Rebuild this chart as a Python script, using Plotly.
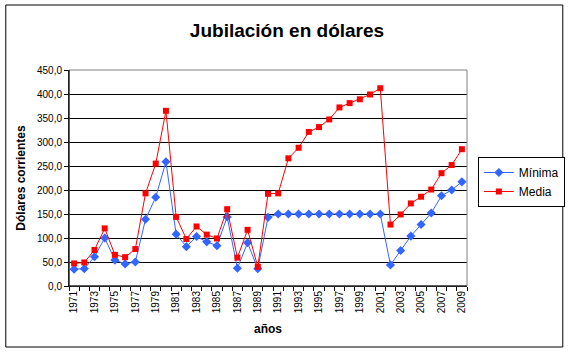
import plotly.graph_objects as go

years = list(range(1971, 2010))
minima = [35, 36, 61, 100, 54, 46, 50, 139, 185, 259, 108, 82, 103, 92, 84, 144, 37, 90, 36, 143,
          150, 150, 150, 150, 150, 150, 150, 150, 150, 150, 150,
          44, 74, 104, 128, 152, 188, 200, 217]
media = [47, 49, 75, 120, 65, 60, 77, 193, 255, 365, 144, 98, 124, 107, 99, 160, 59, 117, 40, 192,
         193, 266, 288, 321, 331, 347, 372, 381, 389, 399, 412,
         128, 149, 172, 186, 201, 235, 252, 285]
tick_years = list(range(1971, 2010, 2))
y_ticks = list(range(0, 451, 50))

FONT = "Liberation Sans, Arial, sans-serif"

fig = go.Figure()
fig.add_trace(go.Scatter(x=years, y=minima, name="Mínima", mode="lines+markers",
                         line=dict(color="#3366FF", width=1),
                         marker=dict(symbol="diamond", size=7, color="#3366FF")))
fig.add_trace(go.Scatter(x=years, y=media, name="Media", mode="lines+markers",
                         line=dict(color="#FF0000", width=1),
                         marker=dict(symbol="square", size=6, color="#FF0000")))

W, H = 577, 354
L, R, T, B = 69, 472, 70, 286
pw, ph = R - L, B - T

def px(x):
    return (x - L) / pw

def py(y):
    return (B - y) / ph

fig.update_layout(
    width=W, height=H,
    margin=dict(l=L, r=W - R, t=T, b=H - B),
    paper_bgcolor="white", plot_bgcolor="white",
    font=dict(family=FONT, color="black", size=10),
    separators=",.",
    title=dict(text="<b>Jubilación en dólares</b>", x=287 / W, xref="container", xanchor="center",
               y=1 - 30 / H, yanchor="middle", font=dict(size=19, family=FONT)),
    legend=dict(x=px(483), y=py(157), xanchor="left", yanchor="top",
                bordercolor="black", borderwidth=1, bgcolor="white",
                font=dict(size=12, family=FONT), tracegroupgap=2),
    xaxis=dict(range=[1970.5, 2009.5], tickmode="array", tickvals=tick_years,
               ticktext=[str(y) for y in tick_years], tickangle=-90, ticks="",
               showgrid=False, zeroline=False, showline=True, linecolor="black", linewidth=1,
               tickfont=dict(size=10),
               minor=dict(tickmode="array", tickvals=[y - 0.5 for y in years] + [2009.5],
                          ticks="outside", ticklen=4, tickcolor="black", showgrid=False),
               title=dict(text="<b>años</b>", font=dict(size=12), standoff=12)),
    yaxis=dict(range=[0, 450], tickmode="array", tickvals=y_ticks, tickformat=".1f",
               ticks="outside", ticklen=4, tickcolor="black",
               showgrid=True, gridcolor="black", gridwidth=1, zeroline=False,
               showline=True, linecolor="black", linewidth=1, tickfont=dict(size=10),
               title=dict(text="<b>Dólares corrientes</b>", font=dict(size=12), standoff=8)),
    shapes=[
        dict(type="rect", xref="paper", yref="paper", x0=0, x1=1, y0=0, y1=1,
             line=dict(color="#808080", width=1), layer="above"),
        dict(type="line", xref="paper", yref="paper", x0=0, x1=0, y0=0, y1=1,
             line=dict(color="black", width=1), layer="above"),
        dict(type="line", xref="paper", yref="paper", x0=0, x1=1, y0=0, y1=0,
             line=dict(color="black", width=1), layer="above"),
        dict(type="rect", xref="paper", yref="paper", x0=px(5), x1=px(569), y0=py(347), y1=py(5),
             line=dict(color="black", width=1)),
    ],
)

fig.write_html("out.html")
